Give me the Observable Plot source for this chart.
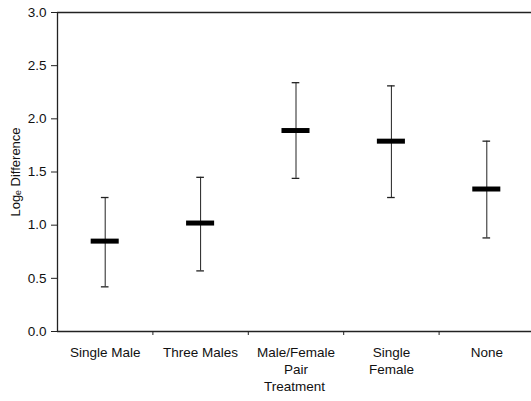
<!DOCTYPE html>
<html>
<head>
<meta charset="utf-8">
<script src="https://cdn.jsdelivr.net/npm/d3@7"></script>
<script src="https://cdn.jsdelivr.net/npm/@observablehq/plot@0.6"></script>
<style>
  html, body { margin: 0; padding: 0; background: #fff; }
</style>
</head>
<body>
<div id="chart"></div>
<script>
const categories = ["Single Male", "Three Males", "Male/Female\nPair", "Single\nFemale", "None"];
const means = [0.85, 1.02, 1.89, 1.79, 1.34];
const upper = [1.26, 1.45, 2.34, 2.31, 1.79];
const lower = [0.42, 0.57, 1.44, 1.26, 0.88];
const yTicks = [0, 0.5, 1, 1.5, 2, 2.5, 3];
const xLabel = "Treatment";
const yLabel = "Logₑ Difference";

const rows = categories.map((c, i) => ({i, category: c, mean: means[i], lo: lower[i], hi: upper[i]}));
const boundaries = categories.slice(1).map((_, i) => i + 0.5);
const capHalf = 0.04;
const barHalf = 0.147;

const chart = Plot.plot({
  width: 531,
  height: 401,
  marginLeft: 57,
  marginRight: 0,
  marginTop: 12,
  marginBottom: 70,
  style: {fontFamily: "'Liberation Sans', Arial, sans-serif", fontSize: "13.5px", color: "#111", background: "#fff"},
  x: {domain: [-0.5, categories.length - 0.5], range: [57, 534], axis: null},
  y: {domain: [0, 3], axis: null},
  marks: [
    Plot.ruleY([0, 3], {stroke: "#222", strokeWidth: 1.3}),
    Plot.ruleX([-0.5], {stroke: "#222", strokeWidth: 1.3}),
    Plot.axisY({ticks: yTicks, tickFormat: d3.format(".1f"), tickSize: 6, tickPadding: 5, stroke: "#222", label: null, fontSize: 13.5}),
    Plot.axisX({ticks: categories.map((_, i) => i), tickFormat: i => categories[i], tickSize: 0, tickPadding: 14, lineHeight: 1.25, label: null, fontSize: 13.5}),
    Plot.axisX({ticks: boundaries, tickFormat: () => "", tickSize: 4, stroke: "#222", label: null}),
    Plot.text([xLabel], {frameAnchor: "bottom", dy: 50, lineAnchor: "top", fontSize: 13.5}),
    Plot.text([yLabel], {frameAnchor: "left", dx: -42, rotate: -90, textAnchor: "middle", fontSize: 13}),
    Plot.ruleX(rows, {x: "i", y1: "lo", y2: "hi", stroke: "#222", strokeWidth: 1}),
    Plot.ruleY(rows, {y: "hi", x1: d => d.i - capHalf, x2: d => d.i + capHalf, stroke: "#222", strokeWidth: 1.3}),
    Plot.ruleY(rows, {y: "lo", x1: d => d.i - capHalf, x2: d => d.i + capHalf, stroke: "#222", strokeWidth: 1.3}),
    Plot.ruleY(rows, {y: "mean", x1: d => d.i - barHalf, x2: d => d.i + barHalf, stroke: "#000", strokeWidth: 5})
  ]
});
document.getElementById("chart").appendChild(chart);
</script>
</body>
</html>
